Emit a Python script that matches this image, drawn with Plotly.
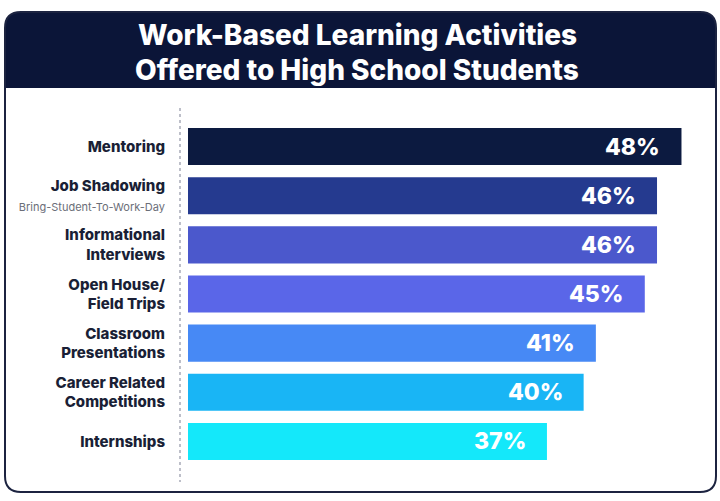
import plotly.graph_objects as go

# ---- data ----
categories = [
    "Mentoring",
    "Job Shadowing",
    "Informational Interviews",
    "Open House/ Field Trips",
    "Classroom Presentations",
    "Career Related Competitions",
    "Internships",
]
tick_labels = [
    "Mentoring",
    "Job Shadowing<br><span style='font-size:11px;color:#6b6e78;font-weight:400'>Bring-Student-To-Work-Day</span>",
    "Informational<br>Interviews",
    "Open House/<br>Field Trips",
    "Classroom<br>Presentations",
    "Career Related<br>Competitions",
    "Internships",
]
values = [48, 46, 46, 45, 41, 40, 37]
bar_colors = ["#0c1a40", "#253a8f", "#4b58cc", "#5a66e8", "#4789f5", "#19b5f5", "#14e8fa"]
title_lines = ["Work-Based Learning Activities", "Offered to High School Students"]

# ---- geometry (reference pixel coords) ----
W, H = 720, 501
ML, MR, MT, MB = 188, 12, 122, 35
PW, PH = W - ML - MR, H - MT - MB


def xp(px):
    return (px - ML) / PW


def yp(py):
    return (H - MB - py) / PH


def rounded_path(x0, y0, x1, y1, r, top_only=False):
    pts = []
    pts.append(f"M {xp(x0)},{yp(y0 + r)}")
    pts.append(f"Q {xp(x0)},{yp(y0)} {xp(x0 + r)},{yp(y0)}")
    pts.append(f"L {xp(x1 - r)},{yp(y0)}")
    pts.append(f"Q {xp(x1)},{yp(y0)} {xp(x1)},{yp(y0 + r)}")
    if top_only:
        pts.append(f"L {xp(x1)},{yp(y1)}")
        pts.append(f"L {xp(x0)},{yp(y1)}")
    else:
        pts.append(f"L {xp(x1)},{yp(y1 - r)}")
        pts.append(f"Q {xp(x1)},{yp(y1)} {xp(x1 - r)},{yp(y1)}")
        pts.append(f"L {xp(x0 + r)},{yp(y1)}")
        pts.append(f"Q {xp(x0)},{yp(y1)} {xp(x0)},{yp(y1 - r)}")
    pts.append("Z")
    return " ".join(pts)


NAVY = "#0b1538"
FONT = "Inter"

fig = go.Figure(
    go.Bar(
        x=values,
        y=categories,
        orientation="h",
        marker=dict(color=bar_colors, line=dict(width=0)),
        hoverinfo="skip",
    )
)

annotations = []
for c, v in zip(categories, values):
    annotations.append(
        dict(
            x=v, y=c, xref="x", yref="y", text=f"{v}%",
            showarrow=False, xanchor="right", yanchor="middle", xshift=-19,
            font=dict(family=FONT, size=23, color="white", weight=800),
        )
    )
for line, ypx in zip(title_lines, [35, 70]):
    annotations.append(
        dict(x=xp(357), y=yp(ypx), xref="paper", yref="paper", text=line,
             showarrow=False, xanchor="center", yanchor="middle",
             font=dict(family=FONT, size=28, color="white", weight=800))
    )

shapes = [
    dict(type="path", xref="paper", yref="paper",
         path=rounded_path(5, 12, 716, 88, 16, top_only=True),
         fillcolor=NAVY, line=dict(width=0), layer="below"),
    dict(type="path", xref="paper", yref="paper",
         path=rounded_path(5, 12, 716, 492, 16),
         fillcolor="rgba(0,0,0,0)", line=dict(color="#1c2340", width=2), layer="above"),
    dict(type="line", xref="paper", yref="paper",
         x0=xp(180), x1=xp(180), y0=yp(108), y1=yp(482),
         line=dict(color="#a8abb8", width=1.5, dash="dot"), layer="below"),
]

fig.update_layout(
    width=W, height=H,
    margin=dict(l=ML, r=MR, t=MT, b=MB),
    paper_bgcolor="white", plot_bgcolor="white",
    showlegend=False,
    bargap=0.245,
    hovermode=False,
    xaxis=dict(range=[7.65, 7.65 + PW / 12.23], visible=False, fixedrange=True),
    yaxis=dict(
        categoryorder="array", categoryarray=categories, autorange="reversed",
        tickmode="array", tickvals=categories, ticktext=tick_labels,
        tickfont=dict(family=FONT, size=15, color="#1a1f36", weight=800),
        showgrid=False, zeroline=False, showline=False, ticks="",
        ticklabelstandoff=22, fixedrange=True,
    ),
    annotations=annotations,
    shapes=shapes,
)

fig.write_html(
    "out.html",
    config={"displayModeBar": False},
    post_script="document.body.style.margin='0';document.body.style.overflow='hidden';"
                "document.documentElement.style.overflow='hidden';",
)
